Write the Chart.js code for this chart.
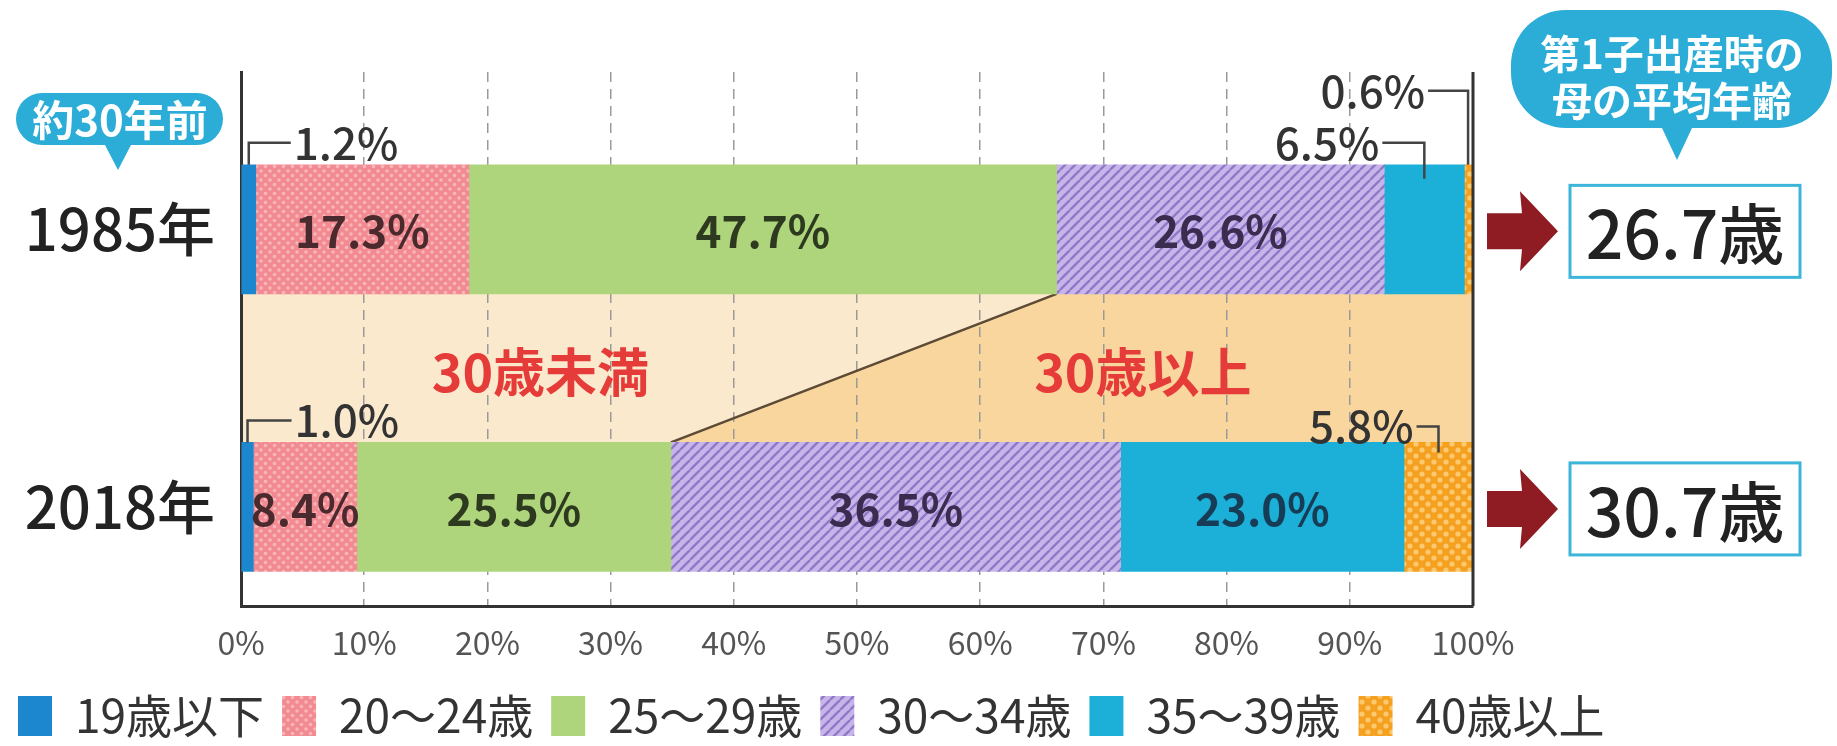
<!DOCTYPE html>
<html>
<head>
<meta charset="utf-8">
<script src="https://cdn.jsdelivr.net/npm/chart.js@4.4.1/dist/chart.umd.min.js"></script>
<style>
  html, body { margin: 0; padding: 0; background: #fff; }
  #wrap { width: 1837px; height: 746px; }
</style>
</head>
<body>
<div id="wrap"><canvas id="chart" width="1837" height="746"></canvas></div>
<script>
(function () {
  'use strict';

  // --- データ（第1子出産時の母の年齢構成, %） ---
  var years     = ['1985年', '2018年'];
  var ageGroups = ['19歳以下', '20～24歳', '25～29歳', '30～34歳', '35～39歳', '40歳以上'];
  var share1985 = [1.2, 17.3, 47.7, 26.6, 6.5, 0.6];
  var share2018 = [1.0, 8.4, 25.5, 36.5, 23.0, 5.8];
  var avgAge    = ['26.7歳', '30.7歳'];
  var xTicks    = [0, 10, 20, 30, 40, 50, 60, 70, 80, 90, 100];

  var FONT = "'Noto Sans CJK JP', 'Noto Sans', sans-serif";

  // 内側ラベルの文字色（年齢階級ごと）
  var innerColor = ['#333', '#4b2a2e', '#2d3a1f', '#3a2c4f', '#173d56', '#4a3210'];

  // 外側ラベル（引き出し線）: rise=棒上端からの高さ, run=横線長さ, dir=向き, dip=棒内への食い込み
  var leaders = {
    '0-0': { dir:  1, rise: 22, run: 42, dip: 0 },
    '0-4': { dir: -1, rise: 22, run: 42, dip: 14 },
    '0-5': { dir: -1, rise: 74, run: 40, dip: 0 },
    '1-0': { dir:  1, rise: 22, run: 44, dip: 0 },
    '1-5': { dir: -1, rise: 16, run: 22, dip: 10 }
  };

  var bandLabels = [
    { text: '30歳未満', at: 24.3 },
    { text: '30歳以上', at: 73.2 }
  ];

  function tile(w, h, draw) {
    var c = document.createElement('canvas');
    c.width = w; c.height = h;
    draw(c.getContext('2d'), w, h);
    return document.createElement('canvas').getContext('2d').createPattern(c, 'repeat');
  }

  var pinkPattern = tile(9, 9, function (g, w, h) {
    g.fillStyle = '#f28a92'; g.fillRect(0, 0, w, h);
    g.fillStyle = '#f8b6ba';
    [[0, 0], [9, 0], [0, 9], [9, 9], [4.5, 4.5]].forEach(function (p) {
      g.beginPath(); g.arc(p[0], p[1], 1.8, 0, Math.PI * 2); g.fill();
    });
  });

  var purplePattern = tile(10, 10, function (g, w, h) {
    g.fillStyle = '#c7b5e9'; g.fillRect(0, 0, w, h);
    g.strokeStyle = '#9078c9'; g.lineWidth = 2.4;
    [-10, 0, 10].forEach(function (o) {
      g.beginPath(); g.moveTo(o, h); g.lineTo(o + w, 0); g.stroke();
    });
  });

  var orangePattern = tile(12, 12, function (g, w, h) {
    g.fillStyle = '#f5a020'; g.fillRect(0, 0, w, h);
    g.fillStyle = '#fbca6e';
    [[0, 0], [12, 0], [0, 12], [12, 12], [6, 6]].forEach(function (p) {
      g.beginPath(); g.arc(p[0], p[1], 2.6, 0, Math.PI * 2); g.fill();
    });
  });

  var fills = ['#1c87cf', pinkPattern, '#aed57b', purplePattern, '#1cb0d8', orangePattern];

  var datasets = ageGroups.map(function (name, g) {
    return {
      label: name,
      data: [{ x: share1985[g], y: 0 }, { x: share2018[g], y: 1 }],
      backgroundColor: fills[g],
      borderWidth: 0,
      borderSkipped: false,
      barThickness: 129
    };
  });

  function bar(chart, g, i) { return chart.getDatasetMeta(g).data[i]; }

  function bubble(ctx, x, y, w, h, r, tipX, tipY, half) {
    ctx.beginPath();
    ctx.moveTo(x + r, y);
    ctx.lineTo(x + w - r, y);
    ctx.arcTo(x + w, y, x + w, y + r, r);
    ctx.lineTo(x + w, y + h - r);
    ctx.arcTo(x + w, y + h, x + w - r, y + h, r);
    ctx.lineTo(tipX + half, y + h);
    ctx.lineTo(tipX, tipY);
    ctx.lineTo(tipX - half, y + h);
    ctx.lineTo(x + r, y + h);
    ctx.arcTo(x, y + h, x, y + h - r, r);
    ctx.lineTo(x, y + r);
    ctx.arcTo(x, y, x + r, y, r);
    ctx.closePath();
    ctx.fill();
  }

  var decor = {
    id: 'decor',
    beforeDraw: function (chart) {
      // 1985年と2018年の間の帯（30歳未満 / 30歳以上）
      var ctx = chart.ctx, a = chart.chartArea;
      var b0 = bar(chart, 2, 0), b1 = bar(chart, 2, 1);
      var top = b0.y + b0.height / 2, bottom = b1.y - b1.height / 2;
      ctx.save();
      ctx.fillStyle = '#fbe9cd';
      ctx.beginPath();
      ctx.moveTo(a.left, top); ctx.lineTo(b0.x, top); ctx.lineTo(b1.x, bottom); ctx.lineTo(a.left, bottom);
      ctx.closePath(); ctx.fill();
      ctx.fillStyle = '#f8d69d';
      ctx.beginPath();
      ctx.moveTo(b0.x, top); ctx.lineTo(a.right, top); ctx.lineTo(a.right, bottom); ctx.lineTo(b1.x, bottom);
      ctx.closePath(); ctx.fill();
      ctx.restore();
    },
    beforeDatasetsDraw: function (chart) {
      var ctx = chart.ctx;
      var b0 = bar(chart, 2, 0), b1 = bar(chart, 2, 1);
      ctx.save();
      ctx.strokeStyle = '#5c4a36'; ctx.lineWidth = 2.5;
      ctx.beginPath();
      ctx.moveTo(b0.x, b0.y + b0.height / 2);
      ctx.lineTo(b1.x, b1.y - b1.height / 2);
      ctx.stroke();
      ctx.restore();
    },
    afterDatasetsDraw: function (chart) {
      var ctx = chart.ctx, a = chart.chartArea, xs = chart.scales.x;
      ctx.save();

      // 右枠
      ctx.strokeStyle = '#333'; ctx.lineWidth = 3;
      ctx.beginPath(); ctx.moveTo(a.right, a.top); ctx.lineTo(a.right, a.bottom); ctx.stroke();

      // 帯ラベル
      var b0 = bar(chart, 2, 0), b1 = bar(chart, 2, 1);
      var bandMid = ((b0.y + b0.height / 2) + (b1.y - b1.height / 2)) / 2 + 4;
      ctx.fillStyle = '#e63c39';
      ctx.font = 'bold 52px ' + FONT;
      ctx.textAlign = 'center'; ctx.textBaseline = 'middle';
      bandLabels.forEach(function (l) { ctx.fillText(l.text, xs.getPixelForValue(l.at), bandMid); });

      // 値ラベル
      var series = [share1985, share2018];
      series.forEach(function (vals, i) {
        vals.forEach(function (v, g) {
          var el = bar(chart, g, i);
          var text = v.toFixed(1) + '%';
          var spec = leaders[i + '-' + g];
          if (!spec) {
            ctx.font = 'bold 44px ' + FONT;
            ctx.fillStyle = innerColor[g];
            ctx.textAlign = 'center';
            ctx.fillText(text, (el.x + el.base) / 2, el.y + 2);
            return;
          }
          var cx = (Math.min(el.x, a.right) + el.base) / 2;
          var top = el.y - el.height / 2;
          var y = top - spec.rise;
          var x2 = cx + spec.dir * spec.run;
          ctx.strokeStyle = '#444'; ctx.lineWidth = 2.5;
          ctx.beginPath();
          ctx.moveTo(cx, top + spec.dip); ctx.lineTo(cx, y); ctx.lineTo(x2, y);
          ctx.stroke();
          ctx.font = '500 44px ' + FONT;
          ctx.fillStyle = '#333';
          ctx.textAlign = spec.dir > 0 ? 'left' : 'right';
          ctx.fillText(text, x2 + spec.dir * 3, y);
        });
      });

      // 矢印と平均年齢
      years.forEach(function (yr, i) {
        var cy = bar(chart, 0, i).y + 2;
        var ax = a.right + 14;
        ctx.fillStyle = '#8e1c22';
        ctx.beginPath();
        ctx.moveTo(ax, cy - 18); ctx.lineTo(ax + 35, cy - 18); ctx.lineTo(ax + 33, cy - 40);
        ctx.lineTo(ax + 71, cy); ctx.lineTo(ax + 33, cy + 40); ctx.lineTo(ax + 35, cy + 18);
        ctx.lineTo(ax, cy + 18); ctx.closePath(); ctx.fill();

        var bx = a.right + 97;
        ctx.fillStyle = '#fff';
        ctx.fillRect(bx, cy - 46, 230, 92);
        ctx.strokeStyle = '#3db5da'; ctx.lineWidth = 3;
        ctx.strokeRect(bx, cy - 46, 230, 92);
        ctx.fillStyle = '#222';
        ctx.font = '500 66px ' + FONT;
        ctx.textAlign = 'center';
        ctx.fillText(avgAge[i], bx + 115, cy + 3);
      });

      // 吹き出し
      ctx.fillStyle = '#2badd7';
      bubble(ctx, 16, 93, 207, 52, 26, 118, 170, 13);
      bubble(ctx, 1511, 10, 321, 118, 55, 1677, 160, 15);
      ctx.fillStyle = '#fff';
      ctx.textAlign = 'center';
      ctx.font = 'bold 42px ' + FONT;
      ctx.fillText('約30年前', 120, 120);
      ctx.font = 'bold 40px ' + FONT;
      ctx.fillText('第1子出産時の', 1672, 54);
      ctx.fillText('母の平均年齢', 1672, 101);

      ctx.restore();
    }
  };

  new Chart(document.getElementById('chart'), {
    type: 'bar',
    data: { datasets: datasets },
    plugins: [decor],
    options: {
      indexAxis: 'y',
      responsive: false,
      animation: false,
      devicePixelRatio: 1,
      events: [],
      layout: { padding: { top: 72, left: 0, right: 0, bottom: -3 } },
      plugins: {
        tooltip: { enabled: false },
        legend: {
          position: 'bottom',
          align: 'start',
          labels: {
            font: { family: FONT, size: 46 },
            color: '#333',
            boxWidth: 34,
            boxHeight: 40,
            padding: 18
          }
        }
      },
      scales: {
        x: {
          type: 'linear',
          stacked: true,
          min: 0,
          max: 100,
          afterBuildTicks: function (s) { s.ticks = xTicks.map(function (v) { return { value: v }; }); },
          afterFit: function (s) { s.height = 69; },
          ticks: {
            callback: function (v) { return v + '%'; },
            font: { family: FONT, size: 32 },
            color: '#555',
            padding: 18
          },
          grid: {
            color: function (c) {
              var v = c.tick && c.tick.value;
              return (v === 0 || v === 100) ? 'rgba(0,0,0,0)' : '#9a9a9a';
            },
            lineWidth: 1.5,
            drawTicks: false
          },
          border: { color: '#333', width: 3, dash: [10, 7] }
        },
        y: {
          type: 'linear',
          stacked: true,
          reverse: true,
          offset: false,
          min: -0.567,
          max: 1.357,
          afterBuildTicks: function (s) { s.ticks = years.map(function (y, i) { return { value: i }; }); },
          afterFit: function (s) { s.width = 241; },
          ticks: {
            callback: function (v) { return years[v]; },
            font: { family: FONT, size: 58, weight: '500' },
            color: '#222',
            padding: 18
          },
          grid: { display: false },
          border: { color: '#333', width: 3 }
        },
        yRight: {
          type: 'linear',
          position: 'right',
          display: true,
          afterFit: function (s) { s.width = 364; },
          ticks: { display: false },
          grid: { display: false },
          border: { display: false }
        }
      }
    }
  });
})();
</script>
</body>
</html>
